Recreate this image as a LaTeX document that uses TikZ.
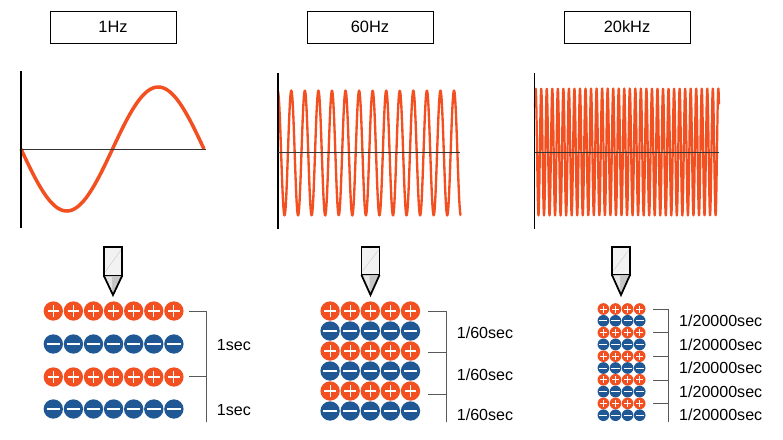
\documentclass[tikz,border=0pt]{standalone}
\usepackage{fontspec}
\setmainfont{Liberation Sans}
\usepackage{tikz}
\usetikzlibrary{calc}

\definecolor{waveorange}{RGB}{243,80,34}
\definecolor{chargeblue}{RGB}{31,88,148}

\begin{document}
\begin{tikzpicture}[x=0.03cm, y=-0.03cm,
    freqbox/.style={draw, line width=0.6pt, minimum width=3.78cm, minimum height=0.96cm, font=\fontsize{14}{16}\selectfont},
    timelabel/.style={anchor=west, inner sep=0pt, font=\fontsize{13.7}{16}\selectfont},
    wave/.style={color=waveorange, line join=round},
    bracket/.style={color=black!65, line width=0.8pt},
    plus/.style={circle, fill=waveorange, inner sep=0pt, path picture={
        \draw[white] ($(path picture bounding box.west)!0.2!(path picture bounding box.east)$) -- ($(path picture bounding box.west)!0.8!(path picture bounding box.east)$)
                     ($(path picture bounding box.north)!0.2!(path picture bounding box.south)$) -- ($(path picture bounding box.north)!0.8!(path picture bounding box.south)$);}},
    minus/.style={circle, fill=chargeblue, inner sep=0pt, path picture={
        \draw[white] ($(path picture bounding box.west)!0.15!(path picture bounding box.east)$) -- ($(path picture bounding box.west)!0.85!(path picture bounding box.east)$);}},
    big/.style={minimum size=0.58cm, line width=0.9pt},
    small/.style={minimum size=0.35cm, line width=0.6pt}]
    \newcommand{\stylus}[2]{% #1 = centre x, #2 = bottom of body
        \filldraw [fill=gray!10, line width=1.5pt] (#1-9,247) rectangle (#1+9,#2);
        \draw [gray!45, line width=0.3pt] (#1-8,#2-4) -- (#1+8,250);
        \fill [gray!45] (#1-9,#2) -- (#1,295) -- (#1+9,#2) -- cycle;
        \fill [gray!20] (#1-8,#2+1) -- (#1-1,#2+1) -- (#1-1,293) -- cycle;
        \draw [line width=1.5pt, line join=miter] (#1-9,#2) -- (#1,295) -- (#1+9,#2);
    }

    \useasboundingbox (0,0) rectangle (783,439);

    % titles
    \node[freqbox] (hz1) at (113,27) {1Hz};
    \node[freqbox] (hz60) at (370,27) {60Hz};
    \node[freqbox] (khz20) at (627,27) {20kHz};

    % waves
    \draw[wave, line width=3pt] plot[domain=21:204, samples=120] (\x, {149+62*sin(1.9672*(\x-21))});
    \draw[wave, line width=2pt] plot[domain=278:461, samples=400] (\x, {153-62.5*cos(26.549*(\x-291.3))});
    \draw[wave, line width=1.9pt] plot[domain=535:719, samples=900] (\x, {152-63.5*cos(65.04*(\x-535.7))});

    % axes
    \draw[line width=1.5pt] (21,71) -- (21,228);
    \draw[line width=0.7pt, black!80] (21,149) -- (206,149);
    \draw[line width=1.5pt] (278,73) -- (278,229);
    \draw[line width=0.7pt, black!80] (278,152) -- (460,152);
    \draw[line width=1.5pt] (534.5,73) -- (534.5,229);
    \draw[line width=0.7pt, black!80] (534.5,152) -- (719,152);

    % pens
    \stylus{113}{276}
    \stylus{370.5}{275}
    \stylus{621}{275}

    % 1Hz charges
    \foreach \r/\s in {311/plus, 344/minus, 377/plus, 409/minus}
        \foreach \k in {0,...,6}
            \node[\s, big] (a\r-\k) at ({53.3+20.1*\k}, \r) {};
    \draw[bracket] (189,311) -- (206,311) (189,376) -- (206,376) (206,311) -- (206,422);
    \node[timelabel] (t1a) at (216.7,345) {1sec};
    \node[timelabel] (t1b) at (216.7,410) {1sec};

    % 60Hz charges
    \foreach \r/\s in {311/plus, 331/minus, 351/plus, 371/minus, 391/plus, 411/minus}
        \foreach \k in {0,...,4}
            \node[\s, big] (b\r-\k) at ({330.1+20.1*\k}, \r) {};
    \draw[bracket] (428,311) -- (446,311) (428,352) -- (446,352) (428,394) -- (446,394) (446,311) -- (446,422);
    \node[timelabel] (t60a) at (456.7,332.7) {1/60sec};
    \node[timelabel] (t60b) at (456.7,374.3) {1/60sec};
    \node[timelabel] (t60c) at (456.7,415) {1/60sec};

    % 20kHz charges
    \foreach \n/\s in {0/plus, 1/minus, 2/plus, 3/minus, 4/plus, 5/minus, 6/plus, 7/minus, 8/plus, 9/minus}
        \foreach \k in {0,...,3}
            \node[\s, small] (c\n-\k) at ({603.4+12.1*\k}, {309+11.8*\n}) {};
    \draw[bracket] (653,309) -- (668,309) (653,332) -- (668,332) (653,356.7) -- (668,356.7) (653,380) -- (668,380) (653,403.3) -- (668,403.3) (668,309) -- (668,422);
    \node[timelabel] (t20a) at (679,320.7) {1/20000sec};
    \node[timelabel] (t20b) at (679,344.3) {1/20000sec};
    \node[timelabel] (t20c) at (679,367.3) {1/20000sec};
    \node[timelabel] (t20d) at (679,391.7) {1/20000sec};
    \node[timelabel] (t20e) at (679,415) {1/20000sec};

\end{tikzpicture}
\end{document}
